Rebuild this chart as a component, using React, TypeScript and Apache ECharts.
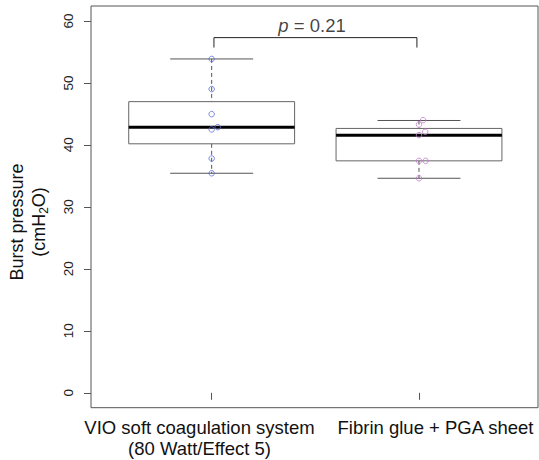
import React, { useEffect, useRef } from "react";
import * as echarts from "echarts";

const categories = ["VIO soft coagulation system\n(80 Watt/Effect 5)", "Fibrin glue + PGA sheet"];
const categoryX = [1, 2];
// box stats: [lower whisker, Q1, median, Q3, upper whisker]
const vioBox = [35.42, 40.17, 42.86, 46.97, 53.86];
const fibrinBox = [34.61, 37.42, 41.57, 42.65, 43.93];
// individual points
const vioValues = [53.86, 49.0, 44.96, 42.86, 42.49, 37.8, 35.42];
const vioX = [1, 1, 1, 1.029, 1, 1, 1];
const fibrinValues = [43.99, 43.28, 42.11, 41.57, 37.42, 37.42, 34.61];
const fibrinX = [2.02, 2, 2.03, 2, 2, 2.032, 2];
const yTicks = [0, 10, 20, 30, 40, 50, 60];
const bracketX = [1.011, 1.99];
const bracketY = [55.7, 57.3];
const pLabelPos = [1.484, 59.3];
const pValue = "0.21";

const FONT = "'Liberation Sans', Arial, Helvetica, sans-serif";

export default function App() {
  const ref = useRef<HTMLDivElement>(null);
  useEffect(() => {
    if (!ref.current) return;
    const chart = echarts.init(ref.current, undefined, { renderer: "svg" });
    const boxData = [
      [categoryX[0], ...vioBox],
      [categoryX[1], ...fibrinBox],
    ];
    const labelFormatter = (v: number) => {
      const idx = categoryX.indexOf(v);
      return idx < 0 ? "" : categories[idx];
    };
    const option: any = {
      animation: false,
      backgroundColor: "#fff",
      textStyle: { fontFamily: FONT },
      grid: [
        {
          left: 91,
          right: 1,
          top: 6,
          bottom: 52.3,
          show: true,
          borderColor: "#555",
          borderWidth: 1,
          backgroundColor: "transparent",
        },
        {
          // helper grid spanning exactly from category 1 to category 2 (ticks)
          left: 211.7,
          right: 120,
          top: 6,
          bottom: 52.3,
          show: false,
        },
        {
          // helper grid for the category label centres
          left: 199.5,
          right: 103.5,
          top: 6,
          bottom: 52.3,
          show: false,
        },
      ],
      xAxis: [
        {
          gridIndex: 0,
          type: "value",
          min: 0.418,
          max: 2.574,
          axisLine: { show: false },
          splitLine: { show: false },
          axisTick: { show: false },
          axisLabel: { show: false },
        },
        {
          gridIndex: 1,
          type: "value",
          min: 1,
          max: 2,
          interval: 1,
          axisLine: { show: false },
          splitLine: { show: false },
          axisTick: { show: true, length: 7, lineStyle: { color: "#555" } },
          axisLabel: { show: false },
        },
        {
          gridIndex: 2,
          type: "value",
          min: 1,
          max: 2,
          interval: 1,
          axisLine: { show: false },
          splitLine: { show: false },
          axisTick: { show: false },
          axisLabel: {
            show: true,
            margin: 9,
            showMinLabel: true,
            showMaxLabel: true,
            formatter: labelFormatter,
            fontSize: 18.5,
            lineHeight: 21,
            color: "#111",
            fontFamily: FONT,
          },
        },
      ],
      yAxis: [
        {
          gridIndex: 0,
          type: "value",
          min: -2.4,
          max: 62.4,
          axisLine: { show: false },
          splitLine: { show: false },
          axisTick: { show: true, length: 7, customValues: yTicks, lineStyle: { color: "#555" } },
          axisLabel: {
            show: true,
            customValues: yTicks,
            rotate: 90,
            margin: 16,
            fontSize: 13.5,
            color: "#222",
            fontFamily: FONT,
          },
        },
        { gridIndex: 1, type: "value", min: -2.4, max: 62.4, show: false },
        { gridIndex: 2, type: "value", min: -2.4, max: 62.4, show: false },
      ],
      graphic: [
        {
          type: "text",
          x: 28,
          y: 222,
          rotation: Math.PI / 2,
          style: {
            text: "{a|Burst pressure}\n{a|(cmH}{s|2}{a|O)}",
            align: "center",
            verticalAlign: "middle",
            fill: "#111",
            rich: {
              a: { fontSize: 18, lineHeight: 22, fontFamily: FONT, fill: "#111" },
              s: { fontSize: 12, lineHeight: 22, verticalAlign: "bottom", fontFamily: FONT, fill: "#111" },
            },
          },
        },
      ],
      series: [
        {
          type: "custom",
          xAxisIndex: 0,
          yAxisIndex: 0,
          data: boxData,
          encode: { x: 0, y: [1, 2, 3, 4, 5] },
          z: 2,
          renderItem: (params: any, api: any) => {
            const x = api.value(0);
            const lo = api.coord([x, api.value(1)]);
            const q1 = api.coord([x, api.value(2)]);
            const med = api.coord([x, api.value(3)]);
            const q3 = api.coord([x, api.value(4)]);
            const hi = api.coord([x, api.value(5)]);
            const cx = lo[0];
            const halfW = api.size([0.4, 0])[0];
            const capW = api.size([0.2, 0])[0];
            const grey = "#555";
            return {
              type: "group",
              children: [
                {
                  type: "line",
                  shape: { x1: cx, y1: hi[1], x2: cx, y2: q3[1] },
                  style: { stroke: grey, lineWidth: 1, lineDash: [4, 3] },
                },
                {
                  type: "line",
                  shape: { x1: cx, y1: q1[1], x2: cx, y2: lo[1] },
                  style: { stroke: grey, lineWidth: 1, lineDash: [4, 3] },
                },
                {
                  type: "line",
                  shape: { x1: cx - capW, y1: hi[1], x2: cx + capW, y2: hi[1] },
                  style: { stroke: grey, lineWidth: 1 },
                },
                {
                  type: "line",
                  shape: { x1: cx - capW, y1: lo[1], x2: cx + capW, y2: lo[1] },
                  style: { stroke: grey, lineWidth: 1 },
                },
                {
                  type: "rect",
                  shape: { x: cx - halfW, y: q3[1], width: 2 * halfW, height: q1[1] - q3[1] },
                  style: { fill: "transparent", stroke: "#666", lineWidth: 1 },
                },
                {
                  type: "line",
                  shape: { x1: cx - halfW, y1: med[1], x2: cx + halfW, y2: med[1] },
                  style: { stroke: "#000", lineWidth: 3 },
                },
              ],
            };
          },
        },
        {
          type: "scatter",
          xAxisIndex: 0,
          yAxisIndex: 0,
          z: 3,
          symbol: "circle",
          symbolSize: 5.5,
          data: vioValues.map((v, i) => [vioX[i], v]),
          itemStyle: { color: "transparent", borderColor: "#5b6dd0", borderWidth: 1 },
        },
        {
          type: "scatter",
          xAxisIndex: 0,
          yAxisIndex: 0,
          z: 3,
          symbol: "circle",
          symbolSize: 5.5,
          data: fibrinValues.map((v, i) => [fibrinX[i], v]),
          itemStyle: { color: "transparent", borderColor: "#c27bcf", borderWidth: 1 },
        },
        {
          type: "line",
          xAxisIndex: 0,
          yAxisIndex: 0,
          z: 3,
          symbol: "none",
          data: [
            [bracketX[0], bracketY[0]],
            [bracketX[0], bracketY[1]],
            [bracketX[1], bracketY[1]],
            [bracketX[1], bracketY[0]],
          ],
          lineStyle: { color: "#222", width: 1 },
        },
        {
          type: "scatter",
          xAxisIndex: 0,
          yAxisIndex: 0,
          z: 4,
          symbolSize: 0,
          data: [pLabelPos],
          itemStyle: { color: "transparent" },
          label: {
            show: true,
            position: "inside",
            formatter: `{i|p} = ${pValue}`,
            color: "#111",
            fontSize: 18.5,
            fontFamily: FONT,
            rich: {
              i: { fontStyle: "italic", fontSize: 18.5, fontFamily: FONT, color: "#111" },
            },
          },
        },
      ],
    };
    chart.setOption(option);
    return () => chart.dispose();
  }, []);
  return (
    <div
      ref={ref}
      style={{ position: "fixed", left: 0, top: 0, width: 539, height: 460, background: "#fff" }}
    />
  );
}
